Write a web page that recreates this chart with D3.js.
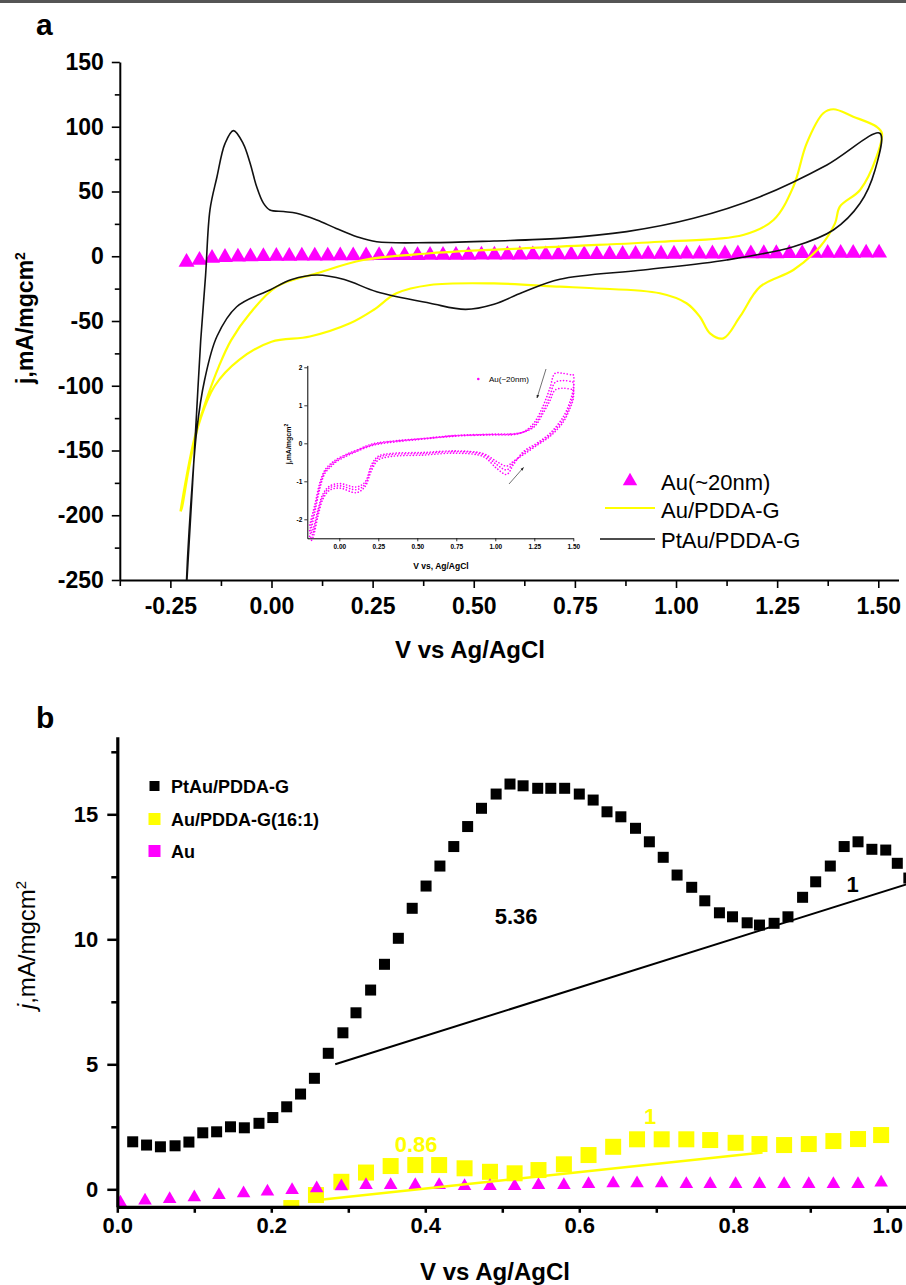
<!DOCTYPE html>
<html>
<head>
<meta charset="utf-8">
<script src="https://cdn.jsdelivr.net/npm/d3@7"></script>
<style>
  body { margin: 0; background: #fff; }
  text { font-family: "Liberation Sans", Arial, Helvetica, sans-serif; }
</style>
</head>
<body>
<div id="chart"></div>
<script>
// ---------- panel a : cyclic voltammograms ----------
// PtAu/PDDA-G (black line), forward sweep then reverse sweep
var ptauV = [-0.209,-0.195,-0.185,-0.175,-0.163,-0.152,-0.135,-0.115,-0.094,-0.07,-0.053,-0.037,-0.02,-0.004,0.03,0.062,0.112,0.16,0.211,0.26,0.392,0.55,0.713,0.878,1.043,1.208,1.373,1.504,
             1.492,1.455,1.389,1.29,1.125,0.919,0.713,0.62,0.55,0.48,0.392,0.26,0.18,0.112,0.05,-0.004,-0.086,-0.135,-0.165,-0.185,-0.198,-0.207,-0.21];
var ptauJ = [-250,-175,-120,-65,-15,36,61,87,97,87,72,54,41,35.7,34.5,33.2,28,21.5,15.1,11.2,10.5,11.8,13.8,19,29.3,46,70.5,95,
             66.6,40.9,20.3,7.4,-2.9,-10.6,-17.8,-28,-37,-41,-36.3,-27.4,-18,-14.5,-18,-26,-39,-62,-95,-135,-185,-230,-250];
// Au/PDDA-G (yellow line)
var augV = [-0.225,-0.21,-0.19,-0.16,-0.13,-0.10,-0.053,0.013,0.112,0.227,0.392,0.713,0.96,1.166,1.241,1.29,1.323,1.364,1.389,1.438,1.496,1.509,
            1.496,1.455,1.405,1.393,1.356,1.29,1.208,1.158,1.117,1.084,1.059,1.026,0.96,0.796,0.713,0.55,0.392,0.309,0.252,0.194,0.095,0.0,-0.08,-0.14,-0.18,-0.205,-0.222];
var augJ = [-197,-170,-140,-110,-85,-65,-44,-23.5,-13.2,-2.9,2.3,7.4,11.2,16.4,28,53.7,87.2,110.4,113.5,107.8,100,95,
            76.9,51.2,38.3,25.4,7.4,-10.6,-23.5,-46.7,-63.4,-59.5,-46.7,-36.3,-28.6,-24.7,-23.5,-21,-22.2,-28.6,-41.5,-51.8,-62,-66,-80,-100,-130,-165,-195];
// Au(~20nm) (magenta triangles)
var auV = [-0.210,-0.178,-0.147,-0.115,-0.083,-0.052,-0.020,0.012,0.044,0.075,
           0.107,0.139,0.170,0.202,0.234,0.266,0.297,0.329,0.361,0.392,
           0.424,0.456,0.487,0.519,0.551,0.583,0.614,0.646,0.678,0.709,
           0.741,0.773,0.804,0.836,0.868,0.900,0.931,0.963,0.995,1.026,
           1.058,1.090,1.121,1.153,1.185,1.217,1.248,1.280,1.312,1.343,
           1.375,1.407,1.438,1.470,1.502];
var auJ = [-4.5,-3,-1.5,-0.8,-0.5,-0.3,-0.2,0,0,0.2,
           0.3,0.3,0.4,0.5,0.5,0.6,0.6,0.7,0.7,0.8,
           0.8,0.9,0.9,1.0,1.0,1.1,1.1,1.2,1.2,1.3,
           1.3,1.4,1.4,1.5,1.5,1.6,1.6,1.7,1.7,1.8,
           1.8,1.9,1.9,2.0,2.0,2.1,2.1,2.2,2.2,2.3,
           2.3,2.4,2.4,2.5,2.6];
var aYTicks = [-250,-200,-150,-100,-50,0,50,100,150];
var aXTicks = [-0.25,0,0.25,0.5,0.75,1.0,1.25,1.5];

// inset : Au(~20nm) over several cycles
var insetV = [-0.19,-0.156,-0.124,-0.092,-0.05,-0.017,0.05,0.11,0.18,0.24,0.368,0.538,0.752,0.966,1.137,1.2,1.254,1.308,1.35,1.383,1.436,1.49,
              1.5,1.5,1.479,1.436,1.35,1.265,1.18,1.115,1.073,1.009,0.923,0.752,0.538,0.325,0.25,0.208,0.165,0.11,0.004,-0.06,-0.103,-0.135,-0.167,-0.185];
var insetJ1 = [-2.45,-1.8,-1.18,-0.79,-0.6,-0.48,-0.33,-0.22,-0.1,-0.03,0.04,0.11,0.19,0.22,0.24,0.35,0.57,1.0,1.45,1.84,1.84,1.8,
               1.8,1.45,1.1,0.7,0.26,0.0,-0.22,-0.57,-0.82,-0.66,-0.35,-0.26,-0.31,-0.35,-0.44,-0.7,-1.14,-1.3,-1.18,-1.23,-1.45,-1.89,-2.46,-2.6];
var insetJ2 = [-2.3,-1.7,-1.1,-0.74,-0.56,-0.45,-0.3,-0.2,-0.08,-0.01,0.06,0.12,0.2,0.23,0.25,0.33,0.5,0.88,1.25,1.6,1.65,1.62,
               1.6,1.3,1.0,0.62,0.22,-0.03,-0.26,-0.52,-0.7,-0.56,-0.3,-0.22,-0.27,-0.3,-0.38,-0.62,-1.08,-1.22,-1.12,-1.17,-1.38,-1.8,-2.35,-2.5];
var insetJ3 = [-2.15,-1.6,-1.03,-0.7,-0.52,-0.42,-0.28,-0.18,-0.06,0.01,0.07,0.13,0.21,0.24,0.26,0.32,0.45,0.8,1.12,1.4,1.45,1.42,
               1.42,1.18,0.92,0.56,0.18,-0.06,-0.3,-0.48,-0.6,-0.48,-0.27,-0.2,-0.24,-0.27,-0.34,-0.55,-1.02,-1.15,-1.06,-1.12,-1.32,-1.72,-2.25,-2.4];
var insetYTicks = [-2,-1,0,1,2];
var insetXTicks = [0,0.25,0.5,0.75,1.0,1.25,1.5];

// ---------- panel b : linear sweep ----------
var ptauBV = [0.020,0.038,0.056,0.075,0.093,0.111,0.129,0.147,0.165,0.184,0.202,0.220,0.238,0.256,0.274,0.293,0.310,0.329,0.347,0.365,
              0.383,0.401,0.419,0.437,0.455,0.473,0.492,0.510,0.527,0.546,0.563,0.581,0.600,0.618,0.636,0.654,0.673,0.691,0.709,0.727,
              0.746,0.763,0.782,0.799,0.818,0.834,0.853,0.871,0.890,0.907,0.926,0.944,0.962,0.980,0.998,1.013,1.028];
var ptauBJ = [1.90,1.77,1.70,1.74,1.89,2.26,2.30,2.50,2.46,2.64,2.87,3.30,3.81,4.44,5.44,6.26,7.06,7.97,9.00,10.04,
              11.24,12.13,12.93,13.71,14.51,15.24,15.81,16.21,16.14,16.04,16.04,16.04,15.81,15.57,15.10,14.90,14.44,13.90,13.28,12.57,
              12.08,11.54,11.06,10.90,10.66,10.57,10.64,10.90,11.68,12.30,12.93,13.71,13.90,13.60,13.57,13.04,12.45];
var augBV = [0.226,0.258,0.291,0.323,0.355,0.387,0.418,0.451,0.484,0.516,0.547,0.580,0.612,0.644,0.675,0.707,0.739,0.770,0.803,0.834,0.866,0.898,0.930,0.962,0.992];
var augBJ = [-0.75,-0.23,0.30,0.67,0.93,0.97,0.97,0.84,0.70,0.64,0.77,1.00,1.37,1.70,2.00,2.00,2.00,1.97,1.86,1.81,1.77,1.81,1.93,2.01,2.17];
var auBV = [0.004,0.036,0.068,0.100,0.132,0.164,0.195,0.227,0.259,0.291,0.323,0.355,0.387,0.418,0.451,0.484,
            0.516,0.547,0.580,0.612,0.644,0.675,0.707,0.739,0.770,0.803,0.834,0.866,0.898,0.930,0.962,0.992];
var auBJ = [-0.53,-0.45,-0.39,-0.32,-0.23,-0.16,-0.09,-0.03,0.04,0.12,0.17,0.17,0.17,0.17,0.13,0.13,
            0.13,0.17,0.17,0.21,0.24,0.24,0.24,0.21,0.21,0.21,0.21,0.21,0.21,0.21,0.21,0.27];
// onset baselines and their labels
var ptauBase = [[0.283,5.0],[1.03,12.25]];
var augBase = [[0.255,-0.45],[0.838,1.47]];
var bNotes = [["5.36", 0.518, 10.6, "#000"], ["1", 0.955, 11.9, "#000"], ["0.86", 0.388, 1.5, "#ffff00"], ["1", 0.692, 2.6, "#ffff00"]];
var bYTicks = [0,5,10,15];
var bYMinor = [2.5,7.5,12.5,17.5];
var bXTicks = [0,0.2,0.4,0.6,0.8,1.0];
var bXMinor = [0.1,0.3,0.5,0.7,0.9];

var MAGENTA = "#ff00ff", YELLOW = "#ffff00";

var svg = d3.select("#chart").append("svg")
    .attr("width", 906)
    .attr("height", 1285);

svg.append("rect").attr("x", 0).attr("y", 0).attr("width", 906).attr("height", 3).attr("fill", "#555");

function zip(a, b) { return a.map(function (d, i) { return [d, b[i]]; }); }

// ================= panel a =================
var xA = d3.scaleLinear().domain([-0.375, 1.55]).range([119.8, 898.5]);
var yA = d3.scaleLinear().domain([-250, 150]).range([580, 62]);

svg.append("text").attr("x", 36).attr("y", 35)
  .style("font-size", "30px").style("font-weight", "bold").text("a");

// minor ticks
svg.append("g").attr("transform", "translate(119.8,0)")
  .call(d3.axisLeft(yA).tickValues(d3.range(-225, 150, 50)).tickSize(5).tickSizeOuter(0).tickFormat(""))
  .call(function (g) { g.select(".domain").remove(); g.selectAll("line").attr("stroke-width", 1.6); });
svg.append("g").attr("transform", "translate(0,580)")
  .call(d3.axisBottom(xA).tickValues(d3.range(-0.375, 1.55, 0.25)).tickSize(6).tickSizeOuter(0).tickFormat(""))
  .call(function (g) { g.select(".domain").remove(); g.selectAll("line").attr("stroke-width", 1.6); });

var ayA = svg.append("g").attr("transform", "translate(119.8,0)")
  .call(d3.axisLeft(yA).tickValues(aYTicks).tickSize(8).tickPadding(8).tickSizeOuter(0).tickFormat(function (d) { return String(d); }));
var axA = svg.append("g").attr("transform", "translate(0,580)")
  .call(d3.axisBottom(xA).tickValues(aXTicks).tickSize(8).tickPadding(10).tickSizeOuter(0).tickFormat(function (d) { return d.toFixed(2); }));
[ayA, axA].forEach(function (g) {
  g.select(".domain").attr("stroke-width", 2);
  g.selectAll("line").attr("stroke-width", 1.6);
  g.selectAll("text").style("font-size", "23px").style("font-weight", "bold").attr("fill", "#000");
});

var yLabA = svg.append("text").attr("transform", "translate(33,318) rotate(-90)")
  .attr("text-anchor", "middle").style("font-size", "23px").style("font-weight", "bold");
yLabA.append("tspan").text("j,mA/mgcm");
yLabA.append("tspan").attr("dy", "-0.6em").style("font-size", "14px").text("2");

svg.append("text").attr("x", 470).attr("y", 658).attr("text-anchor", "middle")
  .style("font-size", "24px").style("font-weight", "bold").text("V vs Ag/AgCl");

// triangles first, lines over them
svg.append("g").selectAll("path")
  .data(zip(auV, auJ))
  .enter().append("path")
    .attr("transform", function (d) { return "translate(" + xA(d[0]) + "," + yA(d[1]) + ")"; })
    .attr("d", d3.symbol().type(d3.symbolTriangle).size(110))
    .attr("fill", MAGENTA);

var lineA = d3.line()
  .x(function (d) { return xA(d[0]); })
  .y(function (d) { return yA(d[1]); })
  .curve(d3.curveCatmullRom.alpha(0.5));

svg.append("path").datum(zip(augV, augJ).concat([[augV[0], augJ[0]]]))
  .attr("d", lineA).attr("fill", "none").attr("stroke", YELLOW).attr("stroke-width", 2.2);
svg.append("path").datum(zip(ptauV, ptauJ))
  .attr("d", lineA).attr("fill", "none").attr("stroke", "#111").attr("stroke-width", 1.6);

// legend a
var legA = svg.append("g");
legA.append("path").attr("transform", "translate(630,481)")
  .attr("d", d3.symbol().type(d3.symbolTriangle).size(90)).attr("fill", MAGENTA);
legA.append("line").attr("x1", 605).attr("x2", 655).attr("y1", 508).attr("y2", 508)
  .attr("stroke", YELLOW).attr("stroke-width", 2.2);
legA.append("line").attr("x1", 600).attr("x2", 655).attr("y1", 539).attr("y2", 539)
  .attr("stroke", "#111").attr("stroke-width", 1.6);
[["Au(~20nm)", 490], ["Au/PDDA-G", 518], ["PtAu/PDDA-G", 548]].forEach(function (t) {
  legA.append("text").attr("x", 661).attr("y", t[1]).style("font-size", "22px").text(t[0]);
});

// ---------- inset ----------
var xI = d3.scaleLinear().domain([-0.205, 1.5]).range([307.3, 573.3]);
var yI = d3.scaleLinear().domain([-2.5, 2.05]).range([538.3, 365.4]);
var gI = svg.append("g");
var ayI = gI.append("g").attr("transform", "translate(307.3,0)")
  .call(d3.axisLeft(yI).tickValues(insetYTicks).tickSize(3).tickPadding(2).tickSizeOuter(0).tickFormat(function (d) { return String(d); }));
var axI = gI.append("g").attr("transform", "translate(0,538.3)")
  .call(d3.axisBottom(xI).tickValues(insetXTicks).tickSize(3).tickPadding(3).tickSizeOuter(0).tickFormat(function (d) { return d.toFixed(2); }));
[ayI, axI].forEach(function (g) {
  g.select(".domain").attr("stroke-width", 1);
  g.selectAll("line").attr("stroke-width", 0.8);
  g.selectAll("text").style("font-size", "6.5px").style("font-weight", "bold").attr("fill", "#000");
});
var yLabI = gI.append("text").attr("transform", "translate(291,444) rotate(-90)")
  .attr("text-anchor", "middle").style("font-size", "7px").style("font-weight", "bold");
yLabI.append("tspan").text("j,mA/mgcm");
yLabI.append("tspan").attr("dy", "-0.6em").style("font-size", "5px").text("2");
gI.append("text").attr("x", 441).attr("y", 569).attr("text-anchor", "middle")
  .style("font-size", "8.5px").style("font-weight", "bold").text("V vs, Ag/AgCl");

var lineI = d3.line()
  .x(function (d) { return xI(d[0]); })
  .y(function (d) { return yI(d[1]); })
  .curve(d3.curveCatmullRom.alpha(0.5));
[insetJ1, insetJ2, insetJ3].forEach(function (js) {
  gI.append("path").datum(zip(insetV, js))
    .attr("d", lineI).attr("fill", "none").attr("stroke", MAGENTA)
    .attr("stroke-width", 1.6).attr("stroke-linecap", "round").attr("stroke-dasharray", "0.1,3");
});
gI.append("circle").attr("cx", 478.3).attr("cy", 379).attr("r", 1.3).attr("fill", MAGENTA);
gI.append("text").attr("x", 489).attr("y", 382).style("font-size", "8px").text("Au(~20nm)");

svg.append("defs").append("marker").attr("id", "arr")
  .attr("viewBox", "0 0 10 10").attr("refX", 9).attr("refY", 5)
  .attr("markerWidth", 5).attr("markerHeight", 5).attr("orient", "auto")
  .append("path").attr("d", "M0,1 L10,5 L0,9 z").attr("fill", "#222");
gI.append("line").attr("x1", 546).attr("y1", 369).attr("x2", 537).attr("y2", 398)
  .attr("stroke", "#333").attr("stroke-width", 0.7).attr("marker-end", "url(#arr)");
gI.append("line").attr("x1", 509).attr("y1", 484).attr("x2", 523.5).attr("y2", 467.5)
  .attr("stroke", "#333").attr("stroke-width", 0.7).attr("marker-end", "url(#arr)");

// ================= panel b =================
var xB = d3.scaleLinear().domain([0, 1.0243]).range([117.3, 906]);
var yB = d3.scaleLinear().domain([-0.7, 18.1]).range([1206.8, 736.8]);

svg.append("text").attr("x", 36).attr("y", 728)
  .style("font-size", "30px").style("font-weight", "bold").text("b");

svg.append("clipPath").attr("id", "clipB").append("rect")
  .attr("x", 117.3).attr("y", 700).attr("width", 800).attr("height", 506.8);

var plotB = svg.append("g").attr("clip-path", "url(#clipB)");

plotB.append("g").selectAll("rect")
  .data(zip(ptauBV, ptauBJ))
  .enter().append("rect")
    .attr("x", function (d) { return xB(d[0]) - 5.5; })
    .attr("y", function (d) { return yB(d[1]) - 5.5; })
    .attr("width", 11).attr("height", 11).attr("fill", "#000");

plotB.append("g").selectAll("rect")
  .data(zip(augBV, augBJ))
  .enter().append("rect")
    .attr("x", function (d) { return xB(d[0]) - 8; })
    .attr("y", function (d) { return yB(d[1]) - 8; })
    .attr("width", 16).attr("height", 16).attr("fill", YELLOW);

plotB.append("g").selectAll("path")
  .data(zip(auBV, auBJ))
  .enter().append("path")
    .attr("transform", function (d) { return "translate(" + xB(d[0]) + "," + yB(d[1]) + ")"; })
    .attr("d", d3.symbol().type(d3.symbolTriangle).size(80))
    .attr("fill", MAGENTA);

var lineB = d3.line()
  .x(function (d) { return xB(d[0]); })
  .y(function (d) { return yB(d[1]); });
plotB.append("path").datum(ptauBase).attr("d", lineB)
  .attr("stroke", "#000").attr("stroke-width", 2).attr("fill", "none");
plotB.append("path").datum(augBase).attr("d", lineB)
  .attr("stroke", YELLOW).attr("stroke-width", 2.5).attr("fill", "none");

// annotations
bNotes.forEach(function (t) {
  svg.append("text").attr("x", xB(t[1])).attr("y", yB(t[2]))
    .attr("text-anchor", "middle").attr("fill", t[3])
    .style("font-size", "22px").style("font-weight", "bold").text(t[0]);
});

// axes b
svg.append("g").attr("transform", "translate(117.3,0)")
  .call(d3.axisLeft(yB).tickValues(bYMinor).tickSize(6).tickSizeOuter(0).tickFormat(""))
  .call(function (g) { g.select(".domain").remove(); g.selectAll("line").attr("stroke-width", 2.5); });
svg.append("g").attr("transform", "translate(0,1206.8)")
  .call(d3.axisBottom(xB).tickValues(bXMinor).tickSize(6).tickSizeOuter(0).tickFormat(""))
  .call(function (g) { g.select(".domain").remove(); g.selectAll("line").attr("stroke-width", 2.5); });
var ayB = svg.append("g").attr("transform", "translate(117.3,0)")
  .call(d3.axisLeft(yB).tickValues(bYTicks).tickSize(10).tickPadding(9).tickSizeOuter(0).tickFormat(function (d) { return String(d); }));
var axB = svg.append("g").attr("transform", "translate(0,1206.8)")
  .call(d3.axisBottom(xB).tickValues(bXTicks).tickSize(6).tickPadding(5).tickSizeOuter(0).tickFormat(function (d) { return d.toFixed(1); }));
[ayB, axB].forEach(function (g) {
  g.select(".domain").attr("stroke-width", 3.2);
  g.selectAll("line").attr("stroke-width", 2.5);
  g.selectAll("text").style("font-size", "22px").style("font-weight", "bold").attr("fill", "#000");
});

var yLabB = svg.append("text").attr("transform", "translate(35,945) rotate(-90)")
  .attr("text-anchor", "middle").style("font-size", "24px");
yLabB.append("tspan").style("font-style", "italic").text("j");
yLabB.append("tspan").text(",mA/mgcm");
yLabB.append("tspan").attr("dy", "-0.6em").style("font-size", "15px").text("2");

svg.append("text").attr("x", 495).attr("y", 1280).attr("text-anchor", "middle")
  .style("font-size", "24px").style("font-weight", "bold").text("V vs Ag/AgCl");

// legend b
var legB = [["PtAu/PDDA-G", "#000", 10, 786], ["Au/PDDA-G(16:1)", YELLOW, 12, 819], ["Au", MAGENTA, 12, 851]];
legB.forEach(function (d) {
  svg.append("rect").attr("x", 154.5 - d[2] / 2).attr("y", d[3] - d[2] / 2)
    .attr("width", d[2]).attr("height", d[2]).attr("fill", d[1]);
  svg.append("text").attr("x", 171).attr("y", d[3] + 6.5)
    .style("font-size", "18px").style("font-weight", "bold").text(d[0]);
});
</script>
</body>
</html>
